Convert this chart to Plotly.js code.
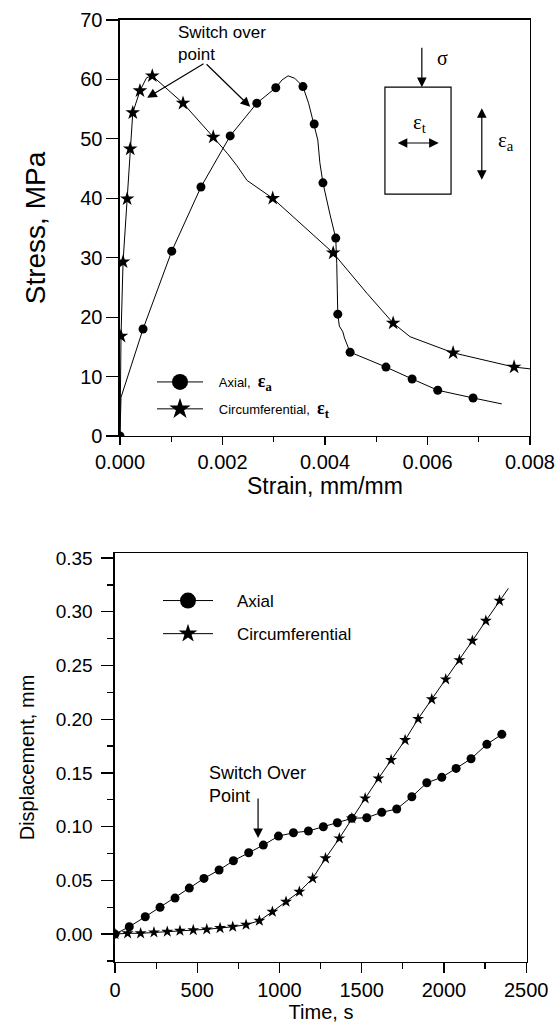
<!DOCTYPE html>
<html>
<head>
<meta charset="utf-8">
<script src="https://cdn.plot.ly/plotly-3.0.1.min.js"></script>
<style>html,body{margin:0;padding:0;background:#fff;}#chart{width:556px;height:1024px;}</style>
</head>
<body>
<div id="chart"></div>
<script>
// ---------- Top chart: stress vs strain ----------
var axialLineStrain = [0, 0.00002, 0.00045, 0.00101, 0.00158, 0.00215, 0.00267, 0.00304, 0.00316, 0.00328, 0.00341, 0.00357, 0.00368, 0.00379, 0.00386, 0.0039, 0.00396, 0.0041, 0.00421, 0.00423, 0.00424, 0.00425, 0.00428, 0.00435, 0.00438, 0.00449, 0.0048, 0.00519, 0.0057, 0.0062, 0.00689, 0.00745];
var axialLineStress = [0, 6.5, 18, 31.1, 41.9, 50.5, 56, 58.6, 59.9, 60.6, 60.2, 58.8, 56, 52.5, 49.8, 46, 42.6, 37.2, 33.3, 29, 24, 20.5, 18.5, 17.5, 16.5, 14.1, 13, 11.6, 9.6, 7.7, 6.4, 5.4];
var axialPtStrain = [0, 0.00045, 0.00101, 0.00158, 0.00215, 0.00267, 0.00304, 0.00357, 0.00379, 0.00396, 0.00421, 0.00425, 0.00449, 0.00519, 0.0057, 0.0062, 0.00689];
var axialPtStress = [0, 18, 31.1, 41.9, 50.5, 56, 58.6, 58.8, 52.5, 42.6, 33.3, 20.5, 14.1, 11.6, 9.6, 7.7, 6.4];

var circLineStrain = [0, 0.00002, 0.00006, 0.00014, 0.0002, 0.00025, 0.00039, 0.00052, 0.00063, 0.00123, 0.00182, 0.0021, 0.00228, 0.00248, 0.00298, 0.00416, 0.00482, 0.00533, 0.00566, 0.0065, 0.00769, 0.008];
var circLineStress = [0, 16.8, 29.3, 39.9, 48.3, 54.4, 58.1, 60.3, 60.6, 56, 50.3, 47.5, 45.5, 43, 40, 30.8, 24, 19, 16.7, 14, 11.6, 11.3];
var circPtStrain = [0.00002, 0.00006, 0.00014, 0.0002, 0.00025, 0.00039, 0.00063, 0.00123, 0.00182, 0.00298, 0.00416, 0.00533, 0.0065, 0.00769];
var circPtStress = [16.8, 29.3, 39.9, 48.3, 54.4, 58.1, 60.6, 56, 50.3, 40, 30.8, 19, 14, 11.6];

var stressTicks = [0, 10, 20, 30, 40, 50, 60, 70];

// ---------- Bottom chart: displacement vs time ----------
var axialTime = [0, 87, 184, 274, 365, 452, 541, 633, 720, 813, 902, 994, 1085, 1176, 1267, 1352, 1440, 1531, 1622, 1713, 1805, 1896, 1987, 2074, 2165, 2261, 2352];
var axialDisp = [0, 0.0068, 0.0161, 0.0249, 0.0335, 0.0428, 0.0518, 0.0596, 0.0682, 0.0757, 0.0828, 0.0912, 0.0943, 0.0959, 0.0999, 0.1036, 0.1077, 0.1083, 0.1133, 0.1164, 0.1278, 0.1408, 0.1459, 0.1542, 0.1632, 0.1766, 0.1859];

var circPtTime = [0, 77, 156, 237, 318, 395, 476, 558, 639, 716, 797, 878, 957, 1040, 1121, 1202, 1280, 1364, 1440, 1521, 1602, 1679, 1764, 1843, 1926, 2011, 2094, 2173, 2255, 2338];
var circPtDisp = [0, 0.0007, 0.0007, 0.0016, 0.0022, 0.0031, 0.0037, 0.0044, 0.0056, 0.0068, 0.0087, 0.0124, 0.0208, 0.0301, 0.0394, 0.0518, 0.0705, 0.0891, 0.1077, 0.1263, 0.1449, 0.1620, 0.1806, 0.2003, 0.2185, 0.2371, 0.2550, 0.2730, 0.2916, 0.3102];
var circLineTime = circPtTime.concat([2392]);
var circLineDisp = circPtDisp.concat([0.3218]);

var FONT = 'Liberation Sans, Arial, sans-serif';
var SERIF = 'Liberation Serif, Times New Roman, serif';

var traces = [
  {x: axialLineStrain, y: axialLineStress, mode: 'lines', line: {color: '#000', width: 1}, showlegend: false, hoverinfo: 'skip', xaxis: 'x', yaxis: 'y'},
  {x: axialPtStrain, y: axialPtStress, mode: 'markers', marker: {symbol: 'circle', size: 9, color: '#000'}, showlegend: false, xaxis: 'x', yaxis: 'y'},
  {x: circLineStrain, y: circLineStress, mode: 'lines', line: {color: '#000', width: 1}, showlegend: false, hoverinfo: 'skip', xaxis: 'x', yaxis: 'y'},
  {x: circPtStrain, y: circPtStress, mode: 'markers', marker: {symbol: 'star', size: 11, color: '#000'}, showlegend: false, xaxis: 'x', yaxis: 'y'},
  {x: [null], y: [null], mode: 'lines+markers', name: '&nbsp;&nbsp;&nbsp;Axial,&nbsp;&nbsp;<span style="font-family:Liberation Serif;font-size:18px"><b>ε<sub>a</sub></b></span>', line: {color: '#000', width: 1}, marker: {symbol: 'circle', size: 16, color: '#000'}, legend: 'legend', legendgroup: 'a', xaxis: 'x', yaxis: 'y'},
  {x: [null], y: [null], mode: 'lines+markers', name: '&nbsp;&nbsp;&nbsp;Circumferential,&nbsp;&nbsp;<span style="font-family:Liberation Serif;font-size:18px"><b>ε<sub>t</sub></b></span>', line: {color: '#000', width: 1}, marker: {symbol: 'star', size: 16, color: '#000'}, legend: 'legend', legendgroup: 'b', xaxis: 'x', yaxis: 'y'},

  {x: axialTime, y: axialDisp, mode: 'lines+markers', line: {color: '#000', width: 1}, marker: {symbol: 'circle', size: 9, color: '#000'}, showlegend: false, xaxis: 'x2', yaxis: 'y2'},
  {x: circLineTime, y: circLineDisp, mode: 'lines', line: {color: '#000', width: 1}, showlegend: false, hoverinfo: 'skip', xaxis: 'x2', yaxis: 'y2'},
  {x: circPtTime, y: circPtDisp, mode: 'markers', marker: {symbol: 'star', size: 9, color: '#000'}, showlegend: false, xaxis: 'x2', yaxis: 'y2'},
  {x: [null], y: [null], mode: 'lines+markers', name: '&nbsp;&nbsp;&nbsp;&nbsp;Axial', line: {color: '#000', width: 1}, marker: {symbol: 'circle', size: 16, color: '#000'}, legend: 'legend2', legendgroup: 'c', xaxis: 'x2', yaxis: 'y2'},
  {x: [null], y: [null], mode: 'lines+markers', name: '&nbsp;&nbsp;&nbsp;&nbsp;Circumferential', line: {color: '#000', width: 1}, marker: {symbol: 'star', size: 14, color: '#000'}, legend: 'legend2', legendgroup: 'd', xaxis: 'x2', yaxis: 'y2'}
];

var axBase = {showline: true, linecolor: '#000', linewidth: 1.5, mirror: true, showgrid: false, zeroline: false, ticks: 'outside', tickcolor: '#000', tickwidth: 1.2, tickfont: {family: FONT, size: 20, color: '#000'}};

function arrowAnn(xr, yr, x, y, ax, ay, both) {
  return {xref: xr, yref: yr, axref: xr, ayref: yr, x: x, y: y, ax: ax, ay: ay, text: '', showarrow: true, arrowhead: 2, arrowsize: 1.6, arrowwidth: 1.2, arrowcolor: '#000', arrowside: both ? 'end+start' : 'end', startarrowhead: 2, startarrowsize: 1.6};
}

var layout = {
  width: 556, height: 1024,
  margin: {l: 0, r: 0, t: 0, b: 0},
  paper_bgcolor: '#fff', plot_bgcolor: '#fff',
  font: {family: FONT, color: '#000'},
  xaxis: Object.assign({}, axBase, {domain: [0.2158, 0.9532], anchor: 'y', range: [0, 0.008], dtick: 0.002, tick0: 0, tickformat: '.3f', ticklen: 8,
    minor: {dtick: 0.001, ticklen: 5, ticks: 'outside', tickcolor: '#000', tickwidth: 1.2},
    title: {text: 'Strain, mm/mm', font: {family: FONT, size: 23, color: '#000'}, standoff: 3}}),
  yaxis: Object.assign({}, axBase, {domain: [0.57422, 0.98047], anchor: 'x', range: [0, 70], tickvals: stressTicks, ticklen: 12,
    title: {text: 'Stress, MPa', font: {family: FONT, size: 28, color: '#000'}, standoff: 26}}),
  xaxis2: Object.assign({}, axBase, {domain: [0.2068, 0.9478], anchor: 'y2', range: [0, 2505], dtick: 500, tick0: 0, ticklen: 10,
    minor: {dtick: 250, ticklen: 6, ticks: 'outside', tickcolor: '#000', tickwidth: 1.2},
    title: {text: 'Time, s', font: {family: FONT, size: 20, color: '#000'}, standoff: 2}}),
  yaxis2: Object.assign({}, axBase, {domain: [0.06055, 0.45996], anchor: 'x2', range: [-0.026, 0.3547], dtick: 0.05, tick0: 0, tickformat: '.2f', ticklen: 12,
    ticklabelstandoff: 5,
    tickfont: {family: FONT, size: 19, color: '#000'},
    minor: {dtick: 0.025, ticklen: 6, ticks: 'outside', tickcolor: '#000', tickwidth: 1.2},
    title: {text: 'Displacement, mm', font: {family: FONT, size: 20, color: '#000'}, standoff: 15}}),
  legend: {x: 152 / 556, y: 1 - 367 / 1024, xanchor: 'left', yanchor: 'top', bgcolor: 'rgba(0,0,0,0)', borderwidth: 0, font: {family: FONT, size: 13, color: '#000'}, tracegroupgap: 7, itemwidth: 46},
  legend2: {x: 158 / 556, y: 1 - 583 / 1024, xanchor: 'left', yanchor: 'top', bgcolor: 'rgba(0,0,0,0)', borderwidth: 0, font: {family: FONT, size: 17, color: '#000'}, tracegroupgap: 8, itemwidth: 50},
  shapes: [
    {type: 'rect', xref: 'x', yref: 'y', x0: 0.00517, x1: 0.00646, y0: 40.7, y1: 58.7, line: {color: '#000', width: 1.2}}
  ],
  annotations: [
    {xref: 'x', yref: 'y', x: 0.00109, y: 69.9, xanchor: 'left', yanchor: 'top', align: 'left', showarrow: false, text: 'Switch over<br>point', font: {family: FONT, size: 17, color: '#000'}},
    arrowAnn('x', 'y', 0.00053, 56.9, 0.00166, 62.8, false),
    arrowAnn('x', 'y', 0.00254, 55.4, 0.00166, 62.8, false),
    arrowAnn('x', 'y', 0.00589, 58.7, 0.00589, 65.6, false),
    {xref: 'x', yref: 'y', x: 0.00629, y: 63.6, showarrow: false, text: 'σ', font: {family: SERIF, size: 20, color: '#000'}},
    {xref: 'x', yref: 'y', x: 0.00585, y: 52.6, showarrow: false, text: 'ε<sub>t</sub>', font: {family: SERIF, size: 21, color: '#000'}},
    arrowAnn('x', 'y', 0.00622, 49.3, 0.00539, 49.3, true),
    arrowAnn('x', 'y', 0.00706, 43.1, 0.00706, 55.4, true),
    {xref: 'x', yref: 'y', x: 0.00753, y: 49.6, showarrow: false, text: 'ε<sub>a</sub>', font: {family: SERIF, size: 21, color: '#000'}},

    {xref: 'x2', yref: 'y2', x: 560, y: 0.161, xanchor: 'left', yanchor: 'top', align: 'left', showarrow: false, text: 'Switch Over<br>Point', font: {family: FONT, size: 18, color: '#000'}},
    arrowAnn('x2', 'y2', 870, 0.0894, 870, 0.1275, false)
  ]
};

Plotly.newPlot('chart', traces, layout, {displayModeBar: false, staticPlot: true});
</script>
</body>
</html>
